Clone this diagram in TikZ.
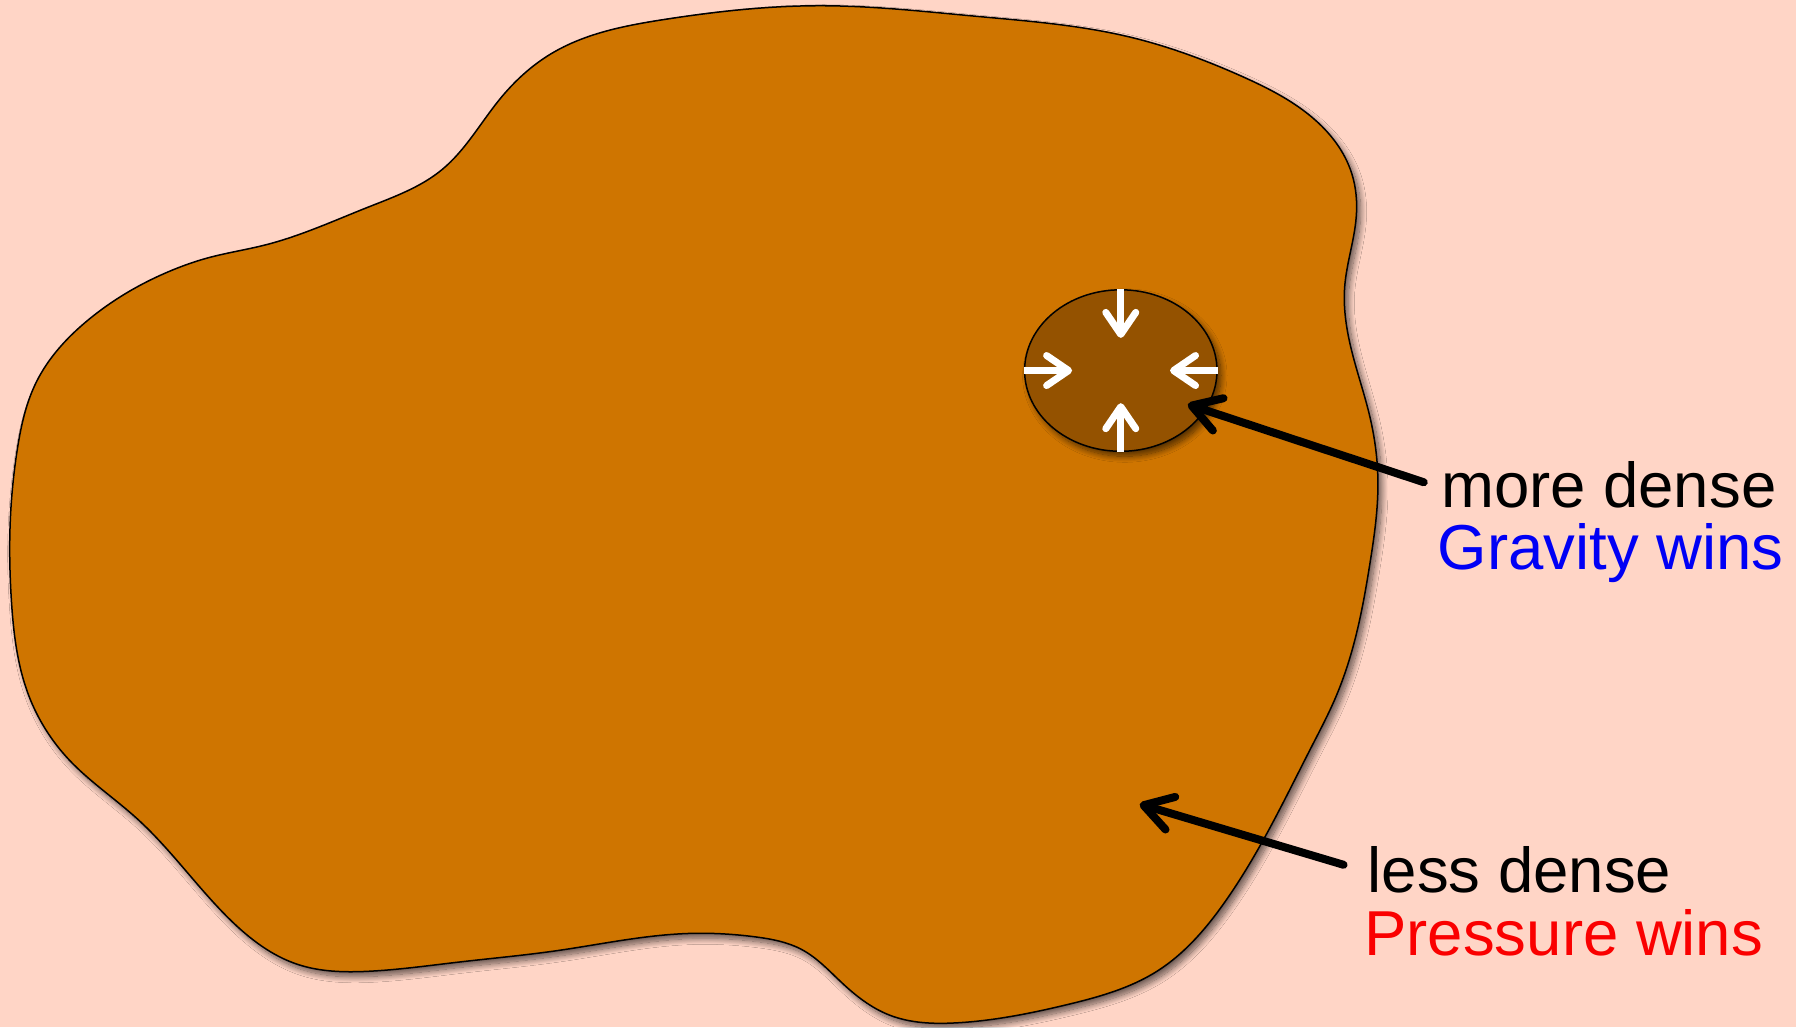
\documentclass[tikz,border=0pt]{standalone}
\usepackage{fontspec}
\setmainfont{Liberation Sans}
\usetikzlibrary{arrows.meta,shapes.geometric,shadows.blur,hobby}
\definecolor{bgpeach}{RGB}{255,213,198}
\definecolor{blobbrown}{RGB}{207,117,0}
\definecolor{corebrown}{RGB}{148,82,0}
\definecolor{gravblue}{RGB}{0,0,245}
\definecolor{presred}{RGB}{250,0,0}
\tikzset{
  blobshape/.style={fill=blobbrown, draw=black, line width=1.5pt,
    blur shadow={shadow xshift=4pt, shadow yshift=-5pt, shadow blur steps=14, shadow opacity=60, shadow blur radius=6pt}},
  coreshape/.style={ellipse, fill=corebrown, draw=black, line width=1.5pt, inner sep=0pt,
    minimum width=192.4pt, minimum height=161.5pt,
    blur shadow={shadow xshift=4pt, shadow yshift=-5pt, shadow blur steps=12, shadow opacity=60, shadow blur radius=6pt}},
  inarrow/.style={draw=white, line width=7pt,
    -{Straight Barb[length=22pt, width=30pt, line cap=round, round]}},
  pointer/.style={draw=black, line width=8pt, line cap=round,
    -{Straight Barb[length=28pt, width=34pt, line cap=round, round]}},
  labeltext/.style={inner sep=0pt, anchor=base west, font=\fontsize{63.5pt}{70pt}\selectfont}
}
\begin{document}
\begin{tikzpicture}[x=1.1454pt,y=-1.1454pt]
\path[use as bounding box, fill=bgpeach] (0,0) rectangle (1568,897);

% the cloud
\path[blobshape, use Hobby shortcut, closed=true]
 (717,5) .. (850,14) .. (985,32) .. (1085,67) .. (1145,102) .. (1180,151) .. (1184,190)
 .. (1174,250) .. (1180,306) .. (1196,364) .. (1203,420) .. (1196,492) .. (1185,550)
 .. (1166,609) .. (1145,652) .. (1108,724) .. (1069,788) .. (1010,848) .. (932,877) .. (835,893)
 .. (776,886) .. (735,858) .. (700,829) .. (660,818) .. (600,815) .. (486,830)
 .. (400,840) .. (321,848) .. (260,842) .. (201,803) .. (120,715) .. (60,663) .. (25,607)
 .. (10,525) .. (9,454) .. (15,393) .. (32,333) .. (75,281) .. (150,236) .. (182,225)
 .. (231,214) .. (321,181) .. (386,148) .. (436,87) .. (481,47) .. (580,17);

% dense core
\node[coreshape] (core) at (978.5,323.5) {};

\coordinate (ctop) at (978.5,295);
\coordinate (cbot) at (978.5,352);
\coordinate (cleft) at (936,323.5);
\coordinate (cright) at (1021.5,323.5);
\draw[inarrow] (core.north) -- (ctop);
\draw[inarrow] (core.south) -- (cbot);
\draw[inarrow] (core.west) -- (cleft);
\draw[inarrow] (core.east) -- (cright);

% labels
\node[labeltext] (more) at (1258,443) {more dense};
\node[labeltext, text=gravblue] (grav) at (1255,497) {Gravity wins};
\node[labeltext] (less) at (1194,779) {less dense};
\node[labeltext, text=presred] (pres) at (1191,834) {Pressure wins};

% pointers
\coordinate (tail1) at (1243,421);
\coordinate (tip1) at (1037,353);
\coordinate (tail2) at (1173,755);
\coordinate (tip2) at (995,702);
\draw[pointer] (tail1) -- (tip1);
\draw[pointer] (tail2) -- (tip2);
\end{tikzpicture}
\end{document}
